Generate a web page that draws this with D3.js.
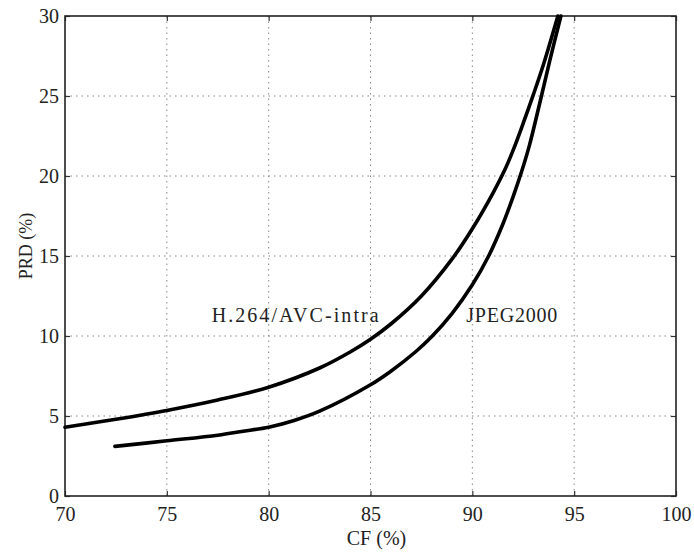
<!DOCTYPE html>
<html>
<head>
<meta charset="utf-8">
<script src="https://cdn.jsdelivr.net/npm/d3@7"></script>
<style>
  body { margin: 0; background: #fff; }
  svg text { font-family: "Palatino Linotype", "Book Antiqua", Palatino, "Liberation Serif", serif; fill: #222; }
  .grid line { stroke: #888; stroke-width: 1; stroke-dasharray: 1.5,4; }
  .line { fill: none; stroke: #000; stroke-width: 3.6; stroke-linecap: round; stroke-linejoin: round; }
</style>
</head>
<body>
<div id="chart"></div>
<script>
// values
var xTicks = [70, 75, 80, 85, 90, 95, 100];
var yTicks = [0, 5, 10, 15, 20, 25, 30];

var h264CF  = [70, 72.5, 75, 77.5, 80, 82.5, 84, 85, 86, 87.5, 89, 90, 91, 91.6, 92, 92.5, 93, 93.5, 94.2];
var h264PRD = [4.3, 4.8, 5.35, 6.0, 6.8, 8.0, 9.0, 9.8, 10.75, 12.5, 14.8, 16.7, 18.9, 20.4, 21.6, 23.3, 25.1, 27.0, 30];

var jpegCF  = [72.45, 75, 77.5, 78.75, 80, 81.25, 82.5, 85, 86, 87.2, 88, 89, 90, 90.8, 91.5, 92, 92.4, 92.8, 93.3, 93.8, 94.35];
var jpegPRD = [3.1, 3.45, 3.8, 4.05, 4.3, 4.72, 5.3, 6.95, 7.8, 9.0, 9.95, 11.4, 13.2, 15.0, 17.0, 18.7, 20.2, 21.9, 24.5, 27.2, 30];

var labels = [
  {text: "H.264/AVC-intra", cf: 77.2, prd: 10.9, len: 167},
  {text: "JPEG2000", cf: 89.7, prd: 10.9, len: 91}
];

var margin = {top: 16, right: 18, bottom: 59, left: 65};
var width  = 694 - margin.left - margin.right;
var height = 555 - margin.top - margin.bottom;

var svg = d3.select("#chart").append("svg")
    .attr("width", 694)
    .attr("height", 555)
  .append("g")
    .attr("transform", "translate(" + margin.left + "," + margin.top + ")");

var x = d3.scaleLinear().domain([70, 100]).range([0, width]);
var y = d3.scaleLinear().domain([0, 30]).range([height, 0]);

// dotted grid
svg.append("g").attr("class", "grid")
  .selectAll("line").data(xTicks.slice(1, -1)).enter().append("line")
    .attr("x1", d => x(d)).attr("x2", d => x(d))
    .attr("y1", 0).attr("y2", height);
svg.append("g").attr("class", "grid")
  .selectAll("line").data(yTicks.slice(1, -1)).enter().append("line")
    .attr("y1", d => y(d)).attr("y2", d => y(d))
    .attr("x1", 0).attr("x2", width);

// axes, ticks pointing inward on all sides
function styleAxis(g) {
  g.select(".domain").remove();
  g.selectAll(".tick line").attr("stroke", "#333").attr("stroke-width", 1.2);
  g.selectAll(".tick text").style("font-size", "20px").attr("fill", "#222");
}

svg.append("g")
    .attr("transform", "translate(0," + height + ")")
    .call(d3.axisBottom(x).tickValues(xTicks).tickSize(-5).tickPadding(11).tickFormat(d3.format("d")))
    .call(styleAxis);
svg.append("g")
    .call(d3.axisTop(x).tickValues(xTicks).tickSize(-5).tickFormat(""))
    .call(styleAxis);
svg.append("g")
    .call(d3.axisLeft(y).tickValues(yTicks).tickSize(-5).tickPadding(6).tickFormat(d3.format("d")))
    .call(styleAxis);
svg.append("g")
    .attr("transform", "translate(" + width + ",0)")
    .call(d3.axisRight(y).tickValues(yTicks).tickSize(-5).tickFormat(""))
    .call(styleAxis);

svg.append("rect")
    .attr("width", width).attr("height", height)
    .attr("fill", "none").attr("stroke", "#222").attr("stroke-width", 1.6);

// curves
var line = d3.line()
    .x(d => x(d[0]))
    .y(d => y(d[1]))
    .curve(d3.curveCatmullRom.alpha(0.5));

svg.append("path")
    .datum(d3.zip(h264CF, h264PRD))
    .attr("class", "line")
    .attr("d", line);
svg.append("path")
    .datum(d3.zip(jpegCF, jpegPRD))
    .attr("class", "line")
    .attr("d", line);

svg.selectAll(".label").data(labels).enter().append("text")
    .attr("class", "label")
    .attr("x", d => x(d.cf))
    .attr("y", d => y(d.prd))
    .attr("textLength", d => d.len)
    .attr("lengthAdjust", "spacing")
    .style("font-size", "20px")
    .text(d => d.text);

// axis titles
svg.append("text")
    .attr("x", width / 2 + 6)
    .attr("y", height + 49)
    .attr("text-anchor", "middle")
    .style("font-size", "20px")
    .text("CF (%)");

svg.append("text")
    .attr("transform", "rotate(-90)")
    .attr("x", -(height / 2 - 10))
    .attr("y", -33)
    .attr("text-anchor", "middle")
    .style("font-size", "18px")
    .text("PRD (%)");
</script>
</body>
</html>
